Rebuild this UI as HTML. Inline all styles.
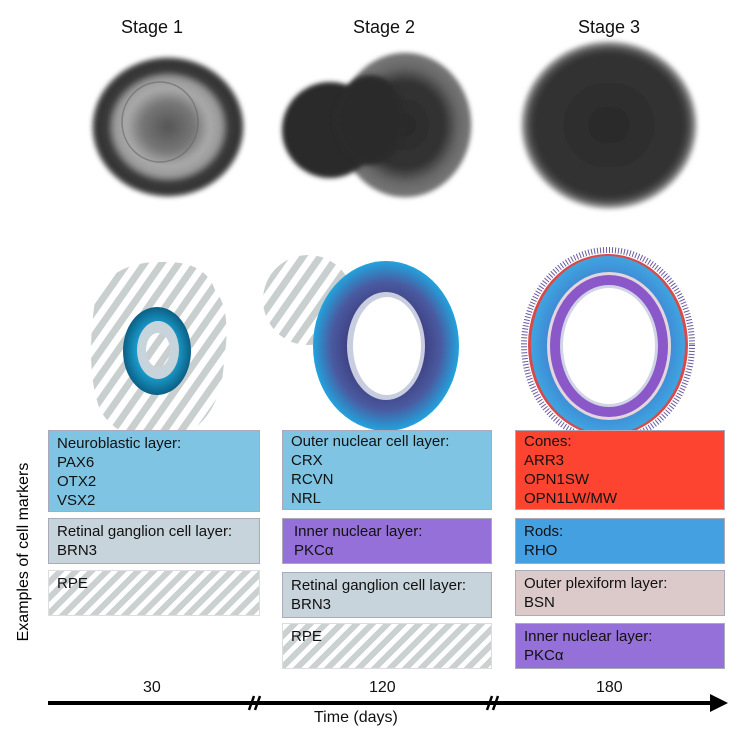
<!DOCTYPE html>
<html><head><meta charset="utf-8"><style>
body{margin:0;background:#fff;width:742px;height:740px;overflow:hidden;position:relative;font-family:"Liberation Sans",sans-serif;}
.b{position:absolute;box-sizing:border-box;border:1px solid #aab;font-size:15px;line-height:19px;padding:3px 8px;color:#111;}
.lb{background:#80c4e4}.gr{background:#c8d4dc}.pu{background:#9570d8}.re{background:#fc4430}.bl{background:#45a0e2}.pk{background:#dccaca}
.h{background:repeating-linear-gradient(135deg,#fff 0 5px,#cbd0d0 5px 11px);border-color:#ddd}
.t{position:absolute;font-size:18px;color:#111}
</style></head><body>
<svg width="742" height="740" style="position:absolute;left:0;top:0">
<defs>
<pattern id="hp" width="14" height="14" patternUnits="userSpaceOnUse" patternTransform="rotate(35)"><rect width="14" height="14" fill="#fff"/><rect width="7" height="14" fill="#c9cfcf"/></pattern>
<filter id="bl"><feGaussianBlur stdDeviation="2.5"/></filter>
<radialGradient id="p1"><stop offset="0" stop-color="#555"/><stop offset="0.35" stop-color="#777"/><stop offset="0.55" stop-color="#aaa"/><stop offset="0.7" stop-color="#999"/><stop offset="0.8" stop-color="#3a3a3a"/><stop offset="0.95" stop-color="#333"/><stop offset="1" stop-color="#888"/></radialGradient>
<radialGradient id="p2"><stop offset="0" stop-color="#2a2a2a"/><stop offset="0.6" stop-color="#333"/><stop offset="0.8" stop-color="#666"/><stop offset="0.97" stop-color="#777"/><stop offset="1" stop-color="#444"/></radialGradient>
<radialGradient id="p3"><stop offset="0" stop-color="#2a2a2a"/><stop offset="0.85" stop-color="#333"/><stop offset="0.93" stop-color="#555"/><stop offset="1" stop-color="#bbb"/></radialGradient>
<radialGradient id="r1"><stop offset="0.6" stop-color="#1a9ccc"/><stop offset="1" stop-color="#0b5f85"/></radialGradient>
<radialGradient id="r2"><stop offset="0.5" stop-color="#3e3f80"/><stop offset="0.75" stop-color="#4a5aa0"/><stop offset="1" stop-color="#22a3dd"/></radialGradient>
<radialGradient id="r3"><stop offset="0.7" stop-color="#3f7fd0"/><stop offset="1" stop-color="#3fa5e0"/></radialGradient>
</defs>
<!-- photos -->
<ellipse cx="168" cy="127" rx="76" ry="70" fill="url(#p1)" filter="url(#bl)"/>
<ellipse cx="160" cy="122" rx="38" ry="40" fill="none" stroke="#666" stroke-width="1.5" opacity=".6"/>
<ellipse cx="405" cy="125" rx="66" ry="72" fill="url(#p2)" filter="url(#bl)"/>
<ellipse cx="330" cy="130" rx="48" ry="48" fill="#2a2a2a" filter="url(#bl)"/>
<ellipse cx="370" cy="120" rx="35" ry="45" fill="#2a2a2a" filter="url(#bl)"/>
<ellipse cx="609" cy="125" rx="88" ry="84" fill="url(#p3)" filter="url(#bl)"/>
<!-- stage1 diagram -->
<path d="M95,300 Q110,262 160,262 Q205,260 215,290 Q232,310 224,360 Q222,420 175,440 Q120,445 100,410 Q85,370 95,300Z" fill="url(#hp)"/>
<ellipse cx="157" cy="351" rx="34" ry="44" fill="url(#r1)"/>
<ellipse cx="158" cy="350" rx="21" ry="29" fill="#c8d4dc"/>
<ellipse cx="158" cy="350" rx="12" ry="17" fill="url(#hp)"/>
<!-- stage2 diagram -->
<circle cx="308" cy="300" r="45" fill="url(#hp)"/>
<ellipse cx="386" cy="346" rx="73" ry="85" fill="url(#r2)"/>
<ellipse cx="386" cy="346" rx="39" ry="54" fill="#c8cde0"/>
<ellipse cx="387" cy="346" rx="34" ry="49" fill="#fff"/>
<!-- stage3 diagram -->
<ellipse cx="608" cy="345" rx="84" ry="95" fill="none" stroke="#6a5aa0" stroke-width="6" stroke-dasharray="1 2"/>
<ellipse cx="608" cy="345" rx="80" ry="91" fill="#d84a4a"/>
<ellipse cx="608" cy="345" rx="77" ry="89" fill="url(#r3)"/>
<ellipse cx="609" cy="346" rx="62" ry="74" fill="#e4d6dc"/>
<ellipse cx="609" cy="346" rx="59" ry="71" fill="#8a58c8"/>
<ellipse cx="609" cy="346" rx="49" ry="61" fill="#d0d4e6"/>
<ellipse cx="609" cy="346" rx="46" ry="58" fill="#fff"/>
<!-- timeline -->
<line x1="48" y1="703" x2="712" y2="703" stroke="#000" stroke-width="4"/>
<polygon points="710,694 728,703 710,712" fill="#000"/>
<line x1="249" y1="710" x2="254" y2="696" stroke="#000" stroke-width="2.5"/>
<line x1="255" y1="710" x2="260" y2="696" stroke="#000" stroke-width="2.5"/>
<line x1="487" y1="710" x2="492" y2="696" stroke="#000" stroke-width="2.5"/>
<line x1="493" y1="710" x2="498" y2="696" stroke="#000" stroke-width="2.5"/>
<text x="28" y="552" transform="rotate(-90 28 552)" text-anchor="middle" font-size="16" font-family="Liberation Sans,sans-serif">Examples of cell markers</text>
</svg>
<div class="t" style="left:121px;top:17px">Stage 1</div>
<div class="t" style="left:353px;top:17px">Stage 2</div>
<div class="t" style="left:578px;top:17px">Stage 3</div>

<div class="b lb" style="left:48px;top:430px;width:212px;height:82px">Neuroblastic layer:<br>PAX6<br>OTX2<br>VSX2</div>
<div class="b gr" style="left:48px;top:518px;width:212px;height:46px">Retinal ganglion cell layer:<br>BRN3</div>
<div class="b h" style="left:48px;top:570px;width:212px;height:46px">RPE</div>

<div class="b lb" style="left:282px;top:430px;width:210px;height:80px;padding-top:1px">Outer nuclear cell layer:<br>CRX<br>RCVN<br>NRL</div>
<div class="b pu" style="left:282px;top:518px;width:210px;height:46px;padding-left:11px">Inner nuclear layer:<br>PKCα</div>
<div class="b gr" style="left:282px;top:572px;width:210px;height:46px">Retinal ganglion cell layer:<br>BRN3</div>
<div class="b h" style="left:282px;top:623px;width:210px;height:46px">RPE</div>

<div class="b re" style="left:515px;top:430px;width:210px;height:80px;padding-top:1px">Cones:<br>ARR3<br>OPN1SW<br>OPN1LW/MW</div>
<div class="b bl" style="left:515px;top:518px;width:210px;height:46px">Rods:<br>RHO</div>
<div class="b pk" style="left:515px;top:570px;width:210px;height:46px">Outer plexiform layer:<br>BSN</div>
<div class="b pu" style="left:515px;top:623px;width:210px;height:46px">Inner nuclear layer:<br>PKCα</div>

<div class="t" style="left:143px;top:679px;font-size:16px">30</div>
<div class="t" style="left:369px;top:679px;font-size:16px">120</div>
<div class="t" style="left:596px;top:679px;font-size:16px">180</div>
<div class="t" style="left:314px;top:709px;font-size:16px">Time (days)</div>
</body></html>
